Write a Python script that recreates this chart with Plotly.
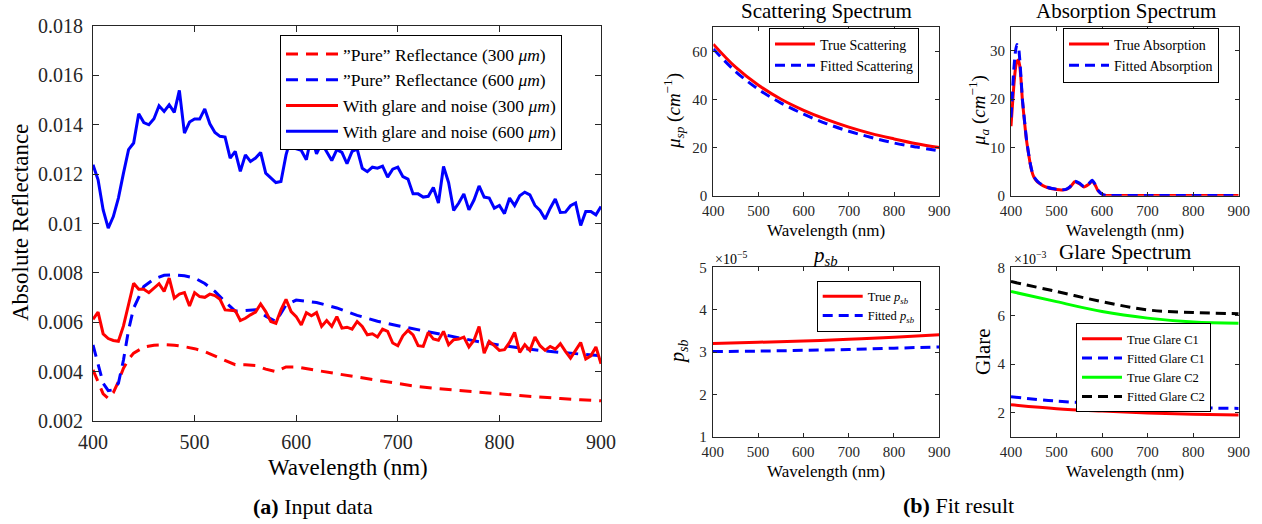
import plotly.graph_objects as go

# ---------------- data: panel (a) ----------------
wl_noisy = list(range(400, 901, 5))
glare_noise_600 = [0.01238, 0.01177, 0.01055, 0.00981, 0.01028, 0.01103, 0.01204, 0.01299, 0.01326, 0.01445,
                   0.01409, 0.01400, 0.01424, 0.01477, 0.01454, 0.01481, 0.01450, 0.01539, 0.01366, 0.01411,
                   0.01423, 0.01423, 0.01464, 0.01404, 0.01369, 0.01353, 0.01350, 0.01265, 0.01292, 0.01211,
                   0.01278, 0.01251, 0.01265, 0.01288, 0.01204, 0.01186, 0.01166, 0.01170, 0.01278, 0.01350,
                   0.01303, 0.01296, 0.01258, 0.01356, 0.01282, 0.01326, 0.01290, 0.01255, 0.01299, 0.01288,
                   0.01242, 0.01292, 0.01301, 0.01224, 0.01210, 0.01228, 0.01224, 0.01232, 0.01188, 0.01220,
                   0.01228, 0.01190, 0.01180, 0.01120, 0.01120, 0.01107, 0.01110, 0.01146, 0.01083, 0.01231,
                   0.01166, 0.01053, 0.01083, 0.01120, 0.01055, 0.01095, 0.01152, 0.01107, 0.01103, 0.01062,
                   0.01073, 0.01040, 0.01103, 0.01073, 0.01112, 0.01127, 0.01116, 0.01073, 0.01053, 0.01018,
                   0.01062, 0.01099, 0.01045, 0.01046, 0.01072, 0.01083, 0.00992, 0.01049, 0.01049, 0.01035,
                   0.01069]
glare_noise_300 = [0.00612, 0.00641, 0.00553, 0.00534, 0.00526, 0.00523, 0.00585, 0.00670, 0.00758, 0.00734,
                   0.00734, 0.00720, 0.00738, 0.00756, 0.00725, 0.00779, 0.00698, 0.00714, 0.00720, 0.00666,
                   0.00720, 0.00704, 0.00701, 0.00714, 0.00708, 0.00693, 0.00650, 0.00650, 0.00647, 0.00607,
                   0.00616, 0.00630, 0.00641, 0.00674, 0.00643, 0.00603, 0.00596, 0.00650, 0.00693, 0.00643,
                   0.00623, 0.00589, 0.00639, 0.00626, 0.00639, 0.00583, 0.00607, 0.00583, 0.00623, 0.00576,
                   0.00580, 0.00572, 0.00603, 0.00583, 0.00549, 0.00553, 0.00540, 0.00572, 0.00563, 0.00516,
                   0.00505, 0.00545, 0.00567, 0.00549, 0.00505, 0.00502, 0.00559, 0.00532, 0.00527, 0.00563,
                   0.00509, 0.00529, 0.00532, 0.00540, 0.00500, 0.00527, 0.00583, 0.00475, 0.00522, 0.00505,
                   0.00486, 0.00489, 0.00518, 0.00559, 0.00478, 0.00509, 0.00486, 0.00540, 0.00505, 0.00486,
                   0.00502, 0.00491, 0.00513, 0.00482, 0.00455, 0.00486, 0.00518, 0.00451, 0.00464, 0.00500,
                   0.00432]
wl_pure = [400, 405, 410, 415, 420, 425, 430, 435, 440, 450, 460, 470, 480, 490, 500, 510, 520, 530, 540, 550,
           560, 570, 580, 590, 600, 620, 640, 660, 680, 700, 720, 740, 760, 780, 800, 820, 840, 860, 880, 900]
pure_600 = [0.00508, 0.00434, 0.00353, 0.00323, 0.00326, 0.00353, 0.00447, 0.00569, 0.00657, 0.00745,
            0.00775, 0.00790, 0.00792, 0.00788, 0.00779, 0.00757, 0.00725, 0.00683, 0.00645, 0.00648,
            0.00651, 0.00625, 0.00603, 0.00670, 0.00690, 0.00680, 0.00658, 0.00628, 0.00604, 0.00586,
            0.00569, 0.00552, 0.00537, 0.00521, 0.00507, 0.00495, 0.00486, 0.00478, 0.00471, 0.00464]
pure_300 = [0.00407, 0.00360, 0.00310, 0.00292, 0.00315, 0.00360, 0.00414, 0.00450, 0.00475, 0.00499,
            0.00507, 0.00509, 0.00507, 0.00501, 0.00493, 0.00481, 0.00464, 0.00445, 0.00428, 0.00428,
            0.00425, 0.00410, 0.00400, 0.00419, 0.00419, 0.00405, 0.00393, 0.00378, 0.00365, 0.00352,
            0.00339, 0.00331, 0.00323, 0.00317, 0.00310, 0.00303, 0.00296, 0.00291, 0.00286, 0.00282]

# ---------------- data: panel (b) ----------------
wl_fit = [400, 450, 500, 550, 600, 650, 700, 750, 800, 850, 900]
scat_true = [63.0, 53.3, 45.9, 40.1, 35.5, 31.7, 28.5, 25.8, 23.6, 21.6, 20.0]
scat_fit = [61.0, 51.5, 44.2, 38.5, 33.9, 30.0, 26.8, 24.2, 21.9, 20.2, 18.7]

wl_abs = [400, 403, 406, 410, 413, 416, 419, 422, 425, 430, 434, 438, 442, 446, 450, 455, 460, 470, 480, 490,
          500, 510, 520, 530, 540, 550, 560, 570, 578, 585, 590, 595, 600, 605, 610, 620, 650, 700, 800, 900]
abs_true = [14.4, 18.5, 22.5, 26.5, 27.8, 28.1, 27.0, 24.0, 19.8, 15.0, 11.5, 9.0, 6.7, 5.0, 3.9, 3.2, 2.7, 2.1,
            1.7, 1.45, 1.3, 1.2, 1.25, 1.8, 2.9, 2.5, 1.8, 2.3, 3.0, 2.2, 1.2, 0.7, 0.3, 0.12, 0.05, 0.03, 0.02,
            0.02, 0.02, 0.02]
abs_fit = [16.2, 21.0, 26.0, 30.0, 31.3, 31.0, 28.5, 24.5, 20.0, 15.3, 11.7, 9.1, 6.8, 5.1, 4.0, 3.3, 2.8, 2.15,
           1.75, 1.5, 1.35, 1.25, 1.3, 1.9, 3.0, 2.6, 1.9, 2.4, 3.2, 2.3, 1.25, 0.7, 0.3, 0.12, 0.05, 0.03, 0.02,
           0.02, 0.02, 0.02]

wl_psb = [400, 500, 600, 700, 800, 900]
psb_true = [3.20e-5, 3.23e-5, 3.26e-5, 3.30e-5, 3.35e-5, 3.41e-5]
psb_fit = [3.01e-5, 3.02e-5, 3.04e-5, 3.06e-5, 3.09e-5, 3.12e-5]

wl_glare = [400, 500, 600, 700, 800, 900]
glare_c1_true = [2.32e-3, 2.16e-3, 2.06e-3, 1.98e-3, 1.93e-3, 1.90e-3]
glare_c1_fit = [2.65e-3, 2.47e-3, 2.37e-3, 2.27e-3, 2.20e-3, 2.17e-3]
glare_c2_true = [7.00e-3, 6.58e-3, 6.17e-3, 5.90e-3, 5.74e-3, 5.69e-3]
glare_c2_fit = [7.41e-3, 7.00e-3, 6.58e-3, 6.24e-3, 6.13e-3, 6.08e-3]

# ---------------- styling ----------------
W, H = 1262, 524
SERIF = "Times New Roman"
AX = "#262626"
RED, BLUE, GREEN, BLACK = "#FF0000", "#0000FF", "#00FF00", "#000000"


def px_x(p):
    return p / W


def px_y(p):
    return 1 - p / H


fig = go.Figure()

# panel (a)
fig.add_trace(go.Scatter(x=wl_pure, y=pure_300, mode="lines", name="”Pure” Reflectance (300 <i>μm</i>)",
                         line=dict(color=RED, width=3, dash="12px,8px"), xaxis="x", yaxis="y", legend="legend"))
fig.add_trace(go.Scatter(x=wl_pure, y=pure_600, mode="lines", name="”Pure” Reflectance (600 <i>μm</i>)",
                         line=dict(color=BLUE, width=3, dash="12px,8px"), xaxis="x", yaxis="y", legend="legend"))
fig.add_trace(go.Scatter(x=wl_noisy, y=glare_noise_300, mode="lines", name="With glare and noise (300 <i>μm</i>)",
                         line=dict(color=RED, width=3), xaxis="x", yaxis="y", legend="legend"))
fig.add_trace(go.Scatter(x=wl_noisy, y=glare_noise_600, mode="lines", name="With glare and noise (600 <i>μm</i>)",
                         line=dict(color=BLUE, width=3), xaxis="x", yaxis="y", legend="legend"))

SD = "10px,6px"
fig.add_trace(go.Scatter(x=wl_fit, y=scat_true, mode="lines", name="True Scattering",
                         line=dict(color=RED, width=3, shape="spline"), xaxis="x2", yaxis="y2", legend="legend2"))
fig.add_trace(go.Scatter(x=wl_fit, y=scat_fit, mode="lines", name="Fitted Scattering",
                         line=dict(color=BLUE, width=3, dash=SD, shape="spline"), xaxis="x2", yaxis="y2", legend="legend2"))
fig.add_trace(go.Scatter(x=wl_abs, y=abs_true, mode="lines", name="True Absorption",
                         line=dict(color=RED, width=3, shape="spline", smoothing=0.6), xaxis="x3", yaxis="y3", legend="legend3"))
fig.add_trace(go.Scatter(x=wl_abs, y=abs_fit, mode="lines", name="Fitted Absorption",
                         line=dict(color=BLUE, width=3, dash=SD, shape="spline", smoothing=0.6), xaxis="x3", yaxis="y3", legend="legend3"))
fig.add_trace(go.Scatter(x=wl_psb, y=psb_true, mode="lines", name="True <i>p</i><sub><i>sb</i></sub>",
                         line=dict(color=RED, width=3, shape="spline"), xaxis="x4", yaxis="y4", legend="legend4"))
fig.add_trace(go.Scatter(x=wl_psb, y=psb_fit, mode="lines", name="Fitted <i>p</i><sub><i>sb</i></sub>",
                         line=dict(color=BLUE, width=3, dash=SD, shape="spline"), xaxis="x4", yaxis="y4", legend="legend4"))
fig.add_trace(go.Scatter(x=wl_glare, y=glare_c1_true, mode="lines", name="True Glare C1",
                         line=dict(color=RED, width=3, shape="spline"), xaxis="x5", yaxis="y5", legend="legend5"))
fig.add_trace(go.Scatter(x=wl_glare, y=glare_c1_fit, mode="lines", name="Fitted Glare C1",
                         line=dict(color=BLUE, width=3, dash=SD, shape="spline"), xaxis="x5", yaxis="y5", legend="legend5"))
fig.add_trace(go.Scatter(x=wl_glare, y=glare_c2_true, mode="lines", name="True Glare C2",
                         line=dict(color=GREEN, width=3, shape="spline"), xaxis="x5", yaxis="y5", legend="legend5"))
fig.add_trace(go.Scatter(x=wl_glare, y=glare_c2_fit, mode="lines", name="Fitted Glare C2",
                         line=dict(color=BLACK, width=3, dash=SD, shape="spline"), xaxis="x5", yaxis="y5", legend="legend5"))


def axis(domain, rng, tickvals, ticktext=None, size=15, anchor=None, ticklen=4, standoff=2):
    d = dict(domain=domain, range=rng, tickvals=tickvals, showline=True, linecolor=AX, linewidth=1,
             mirror="ticks", ticks="inside", ticklen=ticklen, tickcolor=AX, showgrid=False, zeroline=False,
             tickfont=dict(family=SERIF, size=size, color=AX), anchor=anchor, automargin=False,
             ticklabelstandoff=standoff)
    if ticktext is not None:
        d["ticktext"] = ticktext
    return d


xt = [400, 500, 600, 700, 800, 900]

A = (93, 601, 26, 421)
S = (713.3, 939.3, 27.3, 195.7)
B = (1011, 1238.7, 26.7, 195.7)
P = (712.7, 939.3, 267.3, 436.7)
G = (1011, 1238.7, 267.3, 436.7)


def xd(b):
    return [px_x(b[0]), px_x(b[1])]


def yd(b):
    return [px_y(b[3]), px_y(b[2])]


ya_vals = [0.002, 0.004, 0.006, 0.008, 0.01, 0.012, 0.014, 0.016, 0.018]
ya_text = ["0.002", "0.004", "0.006", "0.008", "0.01", "0.012", "0.014", "0.016", "0.018"]

layout = dict(
    width=W, height=H, margin=dict(l=0, r=0, t=0, b=0, pad=0, autoexpand=False),
    paper_bgcolor="white", plot_bgcolor="white",
    font=dict(family=SERIF, color="#000000"),
    xaxis=axis(xd(A), [400, 900], xt, size=20, anchor="y", ticklen=6, standoff=3),
    yaxis=axis(yd(A), [0.002, 0.018], ya_vals, ya_text, size=20, anchor="x", ticklen=6, standoff=5),
    xaxis2=axis(xd(S), [400, 900], xt, anchor="y2", standoff=1),
    yaxis2=axis(yd(S), [0, 70], [0, 20, 40, 60], anchor="x2"),
    xaxis3=axis(xd(B), [400, 900], xt, anchor="y3", standoff=1),
    yaxis3=axis(yd(B), [0, 35], [0, 10, 20, 30], anchor="x3"),
    xaxis4=axis(xd(P), [400, 900], xt, anchor="y4", standoff=1),
    yaxis4=axis(yd(P), [1e-5, 5e-5], [1e-5, 2e-5, 3e-5, 4e-5, 5e-5], ["1", "2", "3", "4", "5"], anchor="x4"),
    xaxis5=axis(xd(G), [400, 900], xt, anchor="y5", standoff=1),
    yaxis5=axis(yd(G), [1e-3, 8e-3], [2e-3, 4e-3, 6e-3, 8e-3], ["2", "4", "6", "8"], anchor="x5"),
)


def leg(x, y, size, iw=40):
    return dict(x=px_x(x), y=px_y(y), xanchor="left", yanchor="top", bgcolor="white",
                bordercolor="#000000", borderwidth=1, font=dict(family=SERIF, size=size, color="#000000"),
                tracegroupgap=0, itemwidth=iw)


layout["legend"] = leg(280, 35, 17.5, iw=52)
layout["legend2"] = leg(769, 27.5, 14)
layout["legend3"] = leg(1063, 27.5, 14)
layout["legend4"] = leg(816.7, 280.7, 12.5)
layout["legend5"] = leg(1076, 323, 12.5)

fig.update_layout(**layout)

ann = []


def text(x, y, s, size, angle=0, xanchor="center"):
    ann.append(dict(x=px_x(x), y=px_y(y), xref="paper", yref="paper", text=s, showarrow=False,
                    textangle=angle, xanchor=xanchor, yanchor="middle",
                    font=dict(family=SERIF, size=size, color="#000000")))


text(348, 467, "Wavelength (nm)", 23)
text(21, 223, "Absolute Reflectance", 23, angle=-90)
text(313, 506, "<b>(a)</b> Input data", 22)
text(958, 505, "<b>(b)</b> Fit result", 22)
text(826, 11, "Scattering Spectrum", 21)
text(1126, 11, "Absorption Spectrum", 21)
text(825, 256, "<i>p</i><sub><i>sb</i></sub>", 21)
text(1125, 252, "Glare Spectrum", 21)
for cx, cy in [(826, 230), (1125, 230), (826, 471), (1125, 471)]:
    text(cx, cy, "Wavelength (nm)", 17)
text(673, 111, "<i>μ</i><sub><i>sp</i></sub> (<i>cm</i><sup>−1</sup>)", 19, angle=-90)
text(978, 111, "<i>μ</i><sub><i>a</i></sub> (<i>cm</i><sup>−1</sup>)", 19, angle=-90)
text(678, 352, "<i>p</i><sub><i>sb</i></sub>", 20, angle=-90)
text(983, 352, "Glare", 21, angle=-90)
text(713, 258, "×10<sup>−5</sup>", 14, xanchor="left")
text(1012, 258, "×10<sup>−3</sup>", 14, xanchor="left")

fig.update_layout(annotations=ann)
fig.write_html("out.html")
